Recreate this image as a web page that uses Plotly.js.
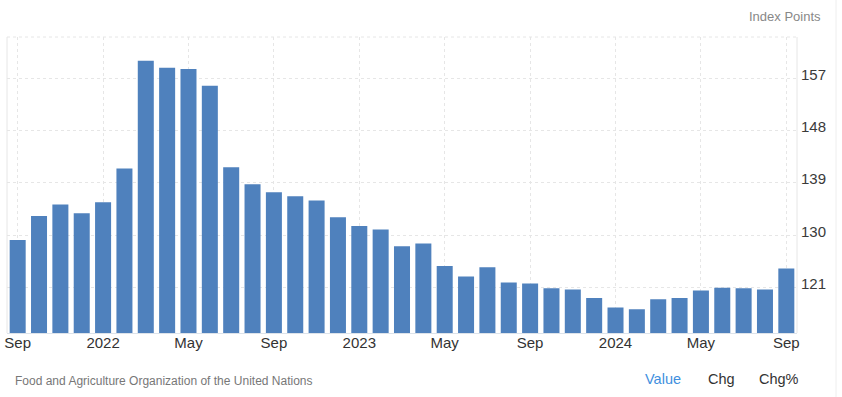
<!DOCTYPE html>
<html>
<head>
<meta charset="utf-8">
<script src="https://cdn.plot.ly/plotly-3.0.1.min.js"></script>
<style>
html,body{margin:0;padding:0;background:#fff;}
#chart{width:842px;height:397px;}
</style>
</head>
<body>
<div id="chart"></div>
<script>
const months = ["2021-09","2021-10","2021-11","2021-12","2022-01","2022-02","2022-03","2022-04","2022-05","2022-06","2022-07","2022-08","2022-09","2022-10","2022-11","2022-12","2023-01","2023-02","2023-03","2023-04","2023-05","2023-06","2023-07","2023-08","2023-09","2023-10","2023-11","2023-12","2024-01","2024-02","2024-03","2024-04","2024-05","2024-06","2024-07","2024-08","2024-09"];
const values = [129.2,133.3,135.3,133.8,135.7,141.5,160.0,158.8,158.6,155.7,141.7,138.8,137.4,136.7,136.0,133.1,131.6,131.0,128.1,128.6,124.7,122.9,124.5,121.9,121.7,120.9,120.7,119.2,117.6,117.3,119.0,119.2,120.5,121.0,120.9,120.7,124.3];
const tickMonths = ["2021-09","2022-01","2022-05","2022-09","2023-01","2023-05","2023-09","2024-01","2024-05","2024-09"];
const tickLabels = ["Sep","2022","May","Sep","2023","May","Sep","2024","May","Sep"];
const yTicks = [121,130,139,148,157];

const FONT = "'Liberation Sans', Arial, sans-serif";
const trace = {
  type: "bar",
  x: months,
  y: values,
  marker: {color: "#4f81bd"},
  hoverinfo: "x+y"
};
const layout = {
  width: 842, height: 397,
  margin: {l: 7, r: 45, t: 37, b: 64, pad: 0},
  paper_bgcolor: "#ffffff",
  plot_bgcolor: "#ffffff",
  bargap: 0.25,
  showlegend: false,
  font: {family: FONT, color: "#333333"},
  xaxis: {
    type: "category",
    range: [-0.5, months.length - 0.5],
    tickmode: "array",
    tickvals: tickMonths,
    ticktext: tickLabels,
    tickangle: 0,
    ticks: "",
    showgrid: true,
    gridcolor: "#e6e6e6",
    griddash: "dot",
    showline: true,
    linecolor: "#dde3ea",
    linewidth: 1,
    zeroline: false,
    ticklabelstandoff: -4,
    tickfont: {family: FONT, size: 15, color: "#333333"},
    fixedrange: true
  },
  yaxis: {
    side: "right",
    range: [113.2, 164.1],
    tickmode: "array",
    tickvals: yTicks,
    ticktext: yTicks.map(String),
    ticks: "",
    showgrid: true,
    gridcolor: "#e6e6e6",
    griddash: "dot",
    showline: false,
    zeroline: false,
    ticklabelshift: -4,
    ticklabelstandoff: 3,
    tickfont: {family: FONT, size: 15, color: "#3a3a3a"},
    fixedrange: true
  },
  shapes: [
    {type: "line", xref: "paper", yref: "paper", x0: 0, x1: 0, y0: 0, y1: 1, line: {color: "#e6e6e6", width: 1}},
    {type: "line", xref: "paper", yref: "paper", x0: 1, x1: 1, y0: 0, y1: 1, line: {color: "#e6e6e6", width: 1}},
    {type: "line", xref: "paper", yref: "paper", x0: 0, x1: 1, y0: 1, y1: 1, line: {color: "#e6e6e6", width: 1, dash: "dot"}},
    {type: "line", xref: "paper", yref: "paper", x0: 1.0494, x1: 1.0494, y0: -0.216, y1: 1.125, line: {color: "#eeeeee", width: 1}}
  ],
  annotations: [
    {text: "Index Points", xref: "paper", yref: "paper", x: 1.0329, y: 1.0676, xanchor: "right", yanchor: "middle", showarrow: false, font: {family: FONT, size: 13, color: "#888888"}},
    {text: "Food and Agriculture Organization of the United Nations", xref: "paper", yref: "paper", x: 0.0072, y: -0.161, xanchor: "left", yanchor: "middle", showarrow: false, font: {family: FONT, size: 12, color: "#777777"}},
    {text: "Value", xref: "paper", yref: "paper", x: 0.8047, y: -0.155, xanchor: "left", yanchor: "middle", showarrow: false, font: {family: FONT, size: 14.5, color: "#3f8fde"}},
    {text: "Chg", xref: "paper", yref: "paper", x: 0.8848, y: -0.155, xanchor: "left", yanchor: "middle", showarrow: false, font: {family: FONT, size: 14.5, color: "#333333"}},
    {text: "Chg%", xref: "paper", yref: "paper", x: 0.9497, y: -0.155, xanchor: "left", yanchor: "middle", showarrow: false, font: {family: FONT, size: 14.5, color: "#333333"}}
  ]
};
Plotly.newPlot("chart", [trace], layout, {displayModeBar: false, staticPlot: true});
</script>
</body>
</html>
